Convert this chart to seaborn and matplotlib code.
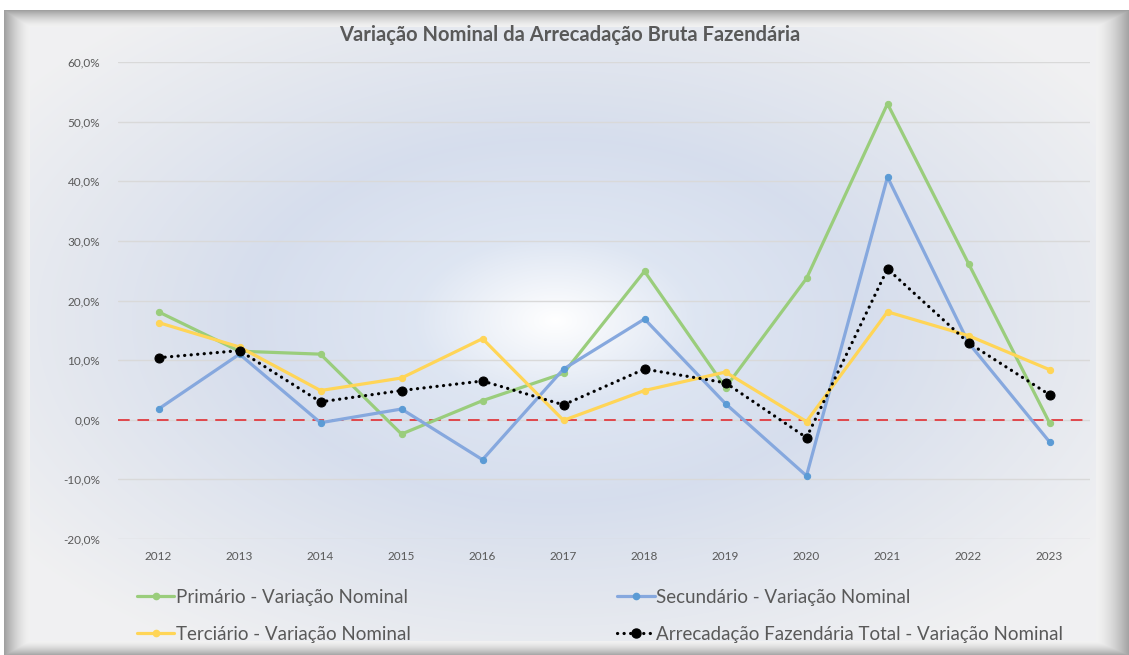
import numpy as np
import pandas as pd
import matplotlib
matplotlib.use("Agg")
import matplotlib.pyplot as plt
import seaborn as sns
from matplotlib.lines import Line2D
from matplotlib.ticker import FuncFormatter

# ==========================
# Dados (variação nominal, %)
# ==========================
anos = [2012, 2013, 2014, 2015, 2016, 2017, 2018, 2019, 2020, 2021, 2022, 2023]
primario = [18.1, 11.5, 11.0, -2.4, 3.2, 7.8, 24.9, 5.4, 23.7, 53.0, 26.2, -0.5]
secundario = [1.8, 11.0, -0.5, 1.8, -6.7, 8.5, 16.9, 2.7, -9.4, 40.7, 12.9, -3.7]
terciario = [16.3, 12.2, 4.9, 7.0, 13.6, -0.1, 4.9, 8.0, -0.3, 18.1, 14.1, 8.4]
total = [10.4, 11.6, 3.0, 4.9, 6.5, 2.5, 8.5, 6.2, -3.0, 25.3, 12.9, 4.2]

nomes = ["Primário - Variação Nominal", "Secundário - Variação Nominal",
         "Terciário - Variação Nominal", "Arrecadação Fazendária Total - Variação Nominal"]

df = pd.DataFrame({"ano": [str(a) for a in anos],
                   nomes[0]: primario, nomes[1]: secundario,
                   nomes[2]: terciario, nomes[3]: total})
df["pos"] = range(len(anos))

sns.set_theme(style="white")
plt.rcParams["font.family"] = ["Lato", "DejaVu Sans"]

W, H = 1129, 655
fig = plt.figure(figsize=(W / 100, H / 100), dpi=100)

# ==========================
# Fundo: moldura chanfrada + gradiente radial
# ==========================
yy, xx = np.mgrid[0:H, 0:W].astype(float)
img = np.ones((H, W, 3))
ox0, oy0, ox1, oy1 = 4, 10, W, H
ix0, iy0, ix1, iy1 = 30, 27, 1095, 640
inner = (xx >= ix0) & (xx <= ix1) & (yy >= iy0) & (yy <= iy1)
outer = (xx >= ox0) & (yy >= oy0)

# sombra da moldura
dl = np.clip((ix0 - xx) / (ix0 - ox0), 0, 1)
dr = np.clip((xx - ix1) / (ox1 - ix1), 0, 1)
dt = np.clip((iy0 - yy) / (iy0 - oy0), 0, 1)
db = np.clip((yy - iy1) / (oy1 - iy1), 0, 1)
d = np.maximum.reduce([dl, dr, dt, db])
shade = 0.95 - 0.32 * d ** 1.6
frame = outer & ~inner
for c in range(3):
    img[..., c][frame] = shade[frame]

# gradiente do interior
cx, cy = 555, 320
rx, ry = 560, 330
r = np.sqrt(((xx - cx) / rx) ** 2 + ((yy - cy) / ry) ** 2)
stops = [0.0, 0.25, 0.55, 0.85, 1.2]
cols = np.array([[1.0, 1.0, 1.0],
                 [0.87, 0.90, 0.95],
                 [0.84, 0.87, 0.93],
                 [0.89, 0.905, 0.935],
                 [0.945, 0.945, 0.95]])
for c in range(3):
    g = np.interp(r, stops, cols[:, c])
    img[..., c][inner] = g[inner]

bg = fig.add_axes([0, 0, 1, 1])
bg.imshow(img, aspect="auto", interpolation="bilinear")
bg.axis("off")

# ==========================
# Gráfico de linhas
# ==========================
ax = fig.add_axes([118 / W, 1 - 539 / H, (1090 - 118) / W, (539 - 62) / H])
ax.set_facecolor("none")

estilos = [
    (nomes[0], "#9acd7c", "#9acd7c", "-", 4.5),
    (nomes[1], "#86a8de", "#5b9bd5", "-", 4.5),
    (nomes[2], "#ffd557", "#ffd557", "-", 4.5),
    (nomes[3], "black", "black", (0, (0.05, 2.0)), 6.5),
]

for nome, cor, cor_m, ls, ms in estilos:
    sns.lineplot(data=df, x="pos", y=nome, ax=ax, color=cor, linewidth=2.3,
                 linestyle=ls, marker="o", markersize=ms, markerfacecolor=cor_m,
                 markeredgecolor=cor_m, zorder=3)
for ln in ax.get_lines():
    ln.set_dash_capstyle("round")

ax.axhline(0, color="#e0474c", linestyle=(0, (6, 4)), linewidth=1.4, zorder=2)

ax.set_xlim(-0.5, len(anos) - 0.5)
ax.set_ylim(-20, 60)
ax.set_yticks(range(-20, 61, 10))
ax.yaxis.set_major_formatter(FuncFormatter(lambda v, p: f"{v:.1f}%".replace(".", ",")))
ax.set_xticks(df["pos"])
ax.set_xticklabels(df["ano"])
ax.grid(axis="y", color="#d9d9d9", linewidth=1.0, zorder=0)
ax.tick_params(axis="both", length=0, labelsize=8.5, colors="#595959")
ax.tick_params(axis="y", pad=13)
ax.tick_params(axis="x", pad=9)
for s in ax.spines.values():
    s.set_visible(False)
ax.set_xlabel("")
ax.set_ylabel("")

fig.text(570 / W, 1 - 35 / H, "Variação Nominal da Arrecadação Bruta Fazendária",
         ha="center", va="center", fontsize=14.5, fontweight="bold", color="#595959")

# legenda em duas colunas
handles = []
for nome, cor, cor_m, ls, ms in estilos:
    h = Line2D([0], [0], color=cor, linewidth=2.3, linestyle=ls, marker="o",
               markersize=ms, markerfacecolor=cor_m, markeredgecolor=cor_m,
               dash_capstyle="round")
    handles.append(h)
ordem = [0, 2, 1, 3]
leg = fig.legend([handles[i] for i in ordem], [nomes[i] for i in ordem],
                 loc="upper left", bbox_to_anchor=(120 / W, 1 - 572 / H),
                 ncol=2, frameon=False, fontsize=13.5, handlelength=2.0,
                 handletextpad=0.08, columnspacing=11.0, labelspacing=1.05,
                 markerscale=1.0)
for t in leg.get_texts():
    t.set_color("#595959")

fig.savefig("out.png", dpi=100)
